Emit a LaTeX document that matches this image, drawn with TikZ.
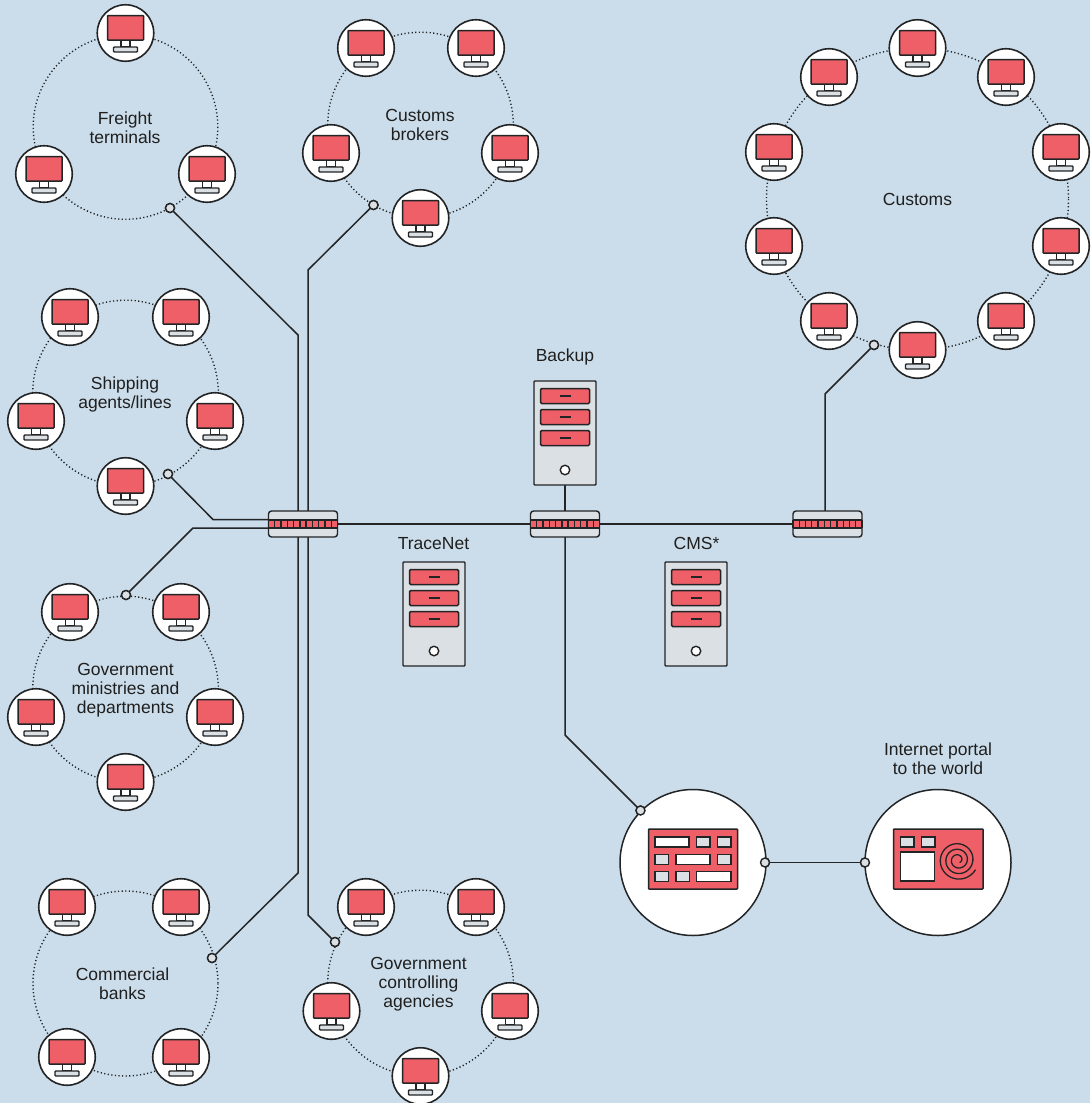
\documentclass[tikz,border=0pt]{standalone}
\usepackage{fontspec}
\setmainfont{Liberation Sans}
\definecolor{bgc}{HTML}{CBDDEA}
\definecolor{redc}{HTML}{EF5F68}
\definecolor{grayc}{HTML}{DBE0E4}
\definecolor{inkc}{HTML}{222426}
\tikzset{
  x=1pt,y=-1pt,
  wire/.style={draw=inkc,line width=1.5pt,line join=miter},
  ringline/.style={draw=inkc,line width=1.4pt,dash pattern=on 1.2pt off 2.4pt},
  disc/.style={circle,draw=inkc,fill=white,line width=1.6pt,minimum size=56.5pt,inner sep=0pt,outer sep=0pt},
  bigdisc/.style={circle,draw=inkc,fill=white,line width=1.5pt,minimum size=146pt,inner sep=0pt,outer sep=0pt},
  port/.style={circle,draw=inkc,fill=grayc,line width=1.4pt,minimum size=9pt,inner sep=0pt,outer sep=0pt},
  red part/.style={draw=inkc,fill=redc,line width=1.5pt,rounded corners=.6pt},
  gray part/.style={draw=inkc,fill=grayc,line width=1.4pt},
  white part/.style={draw=inkc,fill=white,line width=1.4pt},
  lbl/.style={align=center,font=\fontsize{17.5}{19}\selectfont,text=black!88,inner sep=0pt},
  ringhub/.style={inner sep=0pt,minimum size=0pt},
}
\newcommand{\pcnode}[3]{%
  \node[disc] (#1) at (#2,#3) {};
  \begin{scope}[shift={(#2,#3)}]
    \draw[white part] (-4.5,7) rectangle (4.5,14);
    \draw[gray part,rounded corners=.8pt] (-12,14) rectangle (12,19);
    \draw[red part] (-18,-17.5) rectangle (18,7);
  \end{scope}}
\newcommand{\servernode}[3]{%
  \node[draw=inkc,fill=grayc,line width=1.4pt,minimum width=62pt,minimum height=104pt,inner sep=0pt,outer sep=0pt,rounded corners=.8pt] (#1) at (#2,#3) {};
  \begin{scope}[shift={(#2,#3)}]
    \foreach \yy in {-37,-16,5}{
      \draw[red part,rounded corners=1.2pt] (-24.5,\yy-7.5) rectangle (24.5,\yy+7.5);
      \draw[draw=inkc,line width=1.3pt] (-5.5,\yy) -- (5.5,\yy);
    }
    \node[circle,draw=inkc,fill=white,line width=1.4pt,minimum size=9.5pt,inner sep=0pt] at (0,37) {};
  \end{scope}}
\newcommand{\switchnode}[3]{%
  \node[draw=inkc,fill=grayc,line width=1.4pt,minimum width=69pt,minimum height=26pt,inner sep=0pt,outer sep=0pt,rounded corners=3pt] (#1) at (#2,#3) {};
  \begin{scope}[shift={(#2,#3)}]
    \fill[redc] (-34.5,-4) rectangle (34.5,4);
    \foreach \k in {0,...,11}{
      \draw[inkc,line width=1.3pt] ({-34.5+\k*69/11},-4) -- ({-34.5+\k*69/11},4);
    }
    \draw[inkc,line width=1.4pt] (-34.5,-4) -- (34.5,-4) (-34.5,4) -- (34.5,4);
  \end{scope}}
\begin{document}
\begin{tikzpicture}
\useasboundingbox (0,0) rectangle (1090,1103);
\fill[bgc] (0,0) rectangle (1090,1103);
% ring hubs
\node[ringhub] (r1) at (125.5,127) {};
\node[ringhub] (r2) at (420.5,125) {};
\node[ringhub] (r3) at (125.5,393) {};
\node[ringhub] (r4) at (125.5,689) {};
\node[ringhub] (r5) at (125.5,983.5) {};
\node[ringhub] (r6) at (420.5,983) {};
\node[ringhub] (r7) at (917.5,199) {};
% rings
\draw[ringline] (r1) circle (92.3);
\draw[ringline] (r2) circle (92.8);
\draw[ringline] (r3) circle (92.8);
\draw[ringline] (r4) circle (92.8);
\draw[ringline] (r5) circle (92.5);
\draw[ringline] (r6) circle (92.8);
\draw[ringline] (r7) circle (151);
% anchors and devices
\node[port] (pa) at (170,208) {};
\node[port] (pb) at (373.5,205) {};
\node[port] (pc) at (168,474) {};
\node[port] (pd) at (126,595) {};
\node[port] (pe) at (212,958) {};
\node[port] (pf) at (335,942) {};
\node[port] (pg) at (874,345) {};
\node[port] (ph) at (640.5,810.5) {};
\node[port] (pi) at (765,862.5) {};
\node[port] (pj) at (865,862.5) {};
\coordinate (swaL) at (268,519.5);
\coordinate (swaLb) at (268,528);
\coordinate (swaC) at (303,524);
\coordinate (swbC) at (565,524);
\coordinate (swcC) at (825,524);
% connectors
\draw[wire] (pa) -- (298,335) -- (298,873) -- (pe);
\draw[wire] (pb) -- (308,270) -- (308,915) -- (pf);
\draw[wire] (pc) -- (213,519.5) -- (swaL);
\draw[wire] (pd) -- (193,528) -- (swaLb);
\draw[wire] (swaC) -- (swcC);
\draw[wire] (565,485) -- (swbC);
\draw[wire] (swbC) -- (565,735) -- (ph);
\draw[wire] (swcC) -- (825,394) -- (pg);
% network switches
\switchnode{swa}{303}{524}
\switchnode{swb}{565}{524}
\switchnode{swc}{827.5}{524}
% servers
\servernode{backup}{565}{433}
\servernode{tracenet}{434}{614}
\servernode{cms}{696}{614}
% computers
\pcnode{a1}{125.5}{33}\pcnode{a2}{44}{174}\pcnode{a3}{207}{174}
\pcnode{b1}{366}{48}\pcnode{b2}{476}{48}\pcnode{b3}{331}{153}\pcnode{b4}{510}{153}\pcnode{b5}{420.5}{218}
\pcnode{c1}{70}{317}\pcnode{c2}{181}{317}\pcnode{c3}{36}{421}\pcnode{c4}{215}{421}\pcnode{c5}{125.5}{486}
\pcnode{d1}{70}{612}\pcnode{d2}{181}{612}\pcnode{d3}{36}{717}\pcnode{d4}{215}{717}\pcnode{d5}{125.5}{782}
\pcnode{e1}{67}{907}\pcnode{e2}{181}{907}\pcnode{e3}{67}{1057}\pcnode{e4}{181}{1057}
\pcnode{f1}{366}{907}\pcnode{f2}{476}{907}\pcnode{f3}{331.5}{1011}\pcnode{f4}{510}{1011}\pcnode{f5}{420.5}{1076}
\pcnode{g1}{917.5}{48}\pcnode{g2}{829}{77}\pcnode{g3}{1006}{77}\pcnode{g4}{774}{152}\pcnode{g5}{1061}{152}
\pcnode{g6}{774}{246}\pcnode{g7}{1061}{246}\pcnode{g8}{829}{321}\pcnode{g9}{1006}{321}\pcnode{g10}{917.5}{350}
% big circles
\node[bigdisc] (hub) at (693,862.5) {};
\node[bigdisc] (portal) at (938,862.5) {};
\draw[red part] (648.5,829) rectangle (737.5,889);
\foreach \xa/\xb/\ya in {655/689/837,676/710/854.5,696.5/731/871.5}{
  \draw[white part] (\xa,\ya) rectangle (\xb,\ya+10);}
\foreach \xa/\ya in {696.5/837,717.5/837,655/854.5,717.5/854.5,655/871.5,676/871.5}{
  \draw[gray part] (\xa,\ya) rectangle (\xa+13.5,\ya+10);}
\draw[red part] (893.5,829) rectangle (983,889);
\foreach \xa in {900.5,921.5}{\draw[gray part] (\xa,837) rectangle (\xa+13.5,847);}
\draw[white part] (900.5,852) rectangle (934.5,881);
\draw[draw=inkc,line width=1.3pt,line cap=round] plot[smooth,samples=120,domain=0:1100,variable=\t] ({958+(20-\t/1100*17)*cos(30+\t)},{860+(20-\t/1100*17)*sin(30+\t)});
% wire between the two big circles, and ports on top
\draw[wire,line width=1.8pt] (pi) -- (pj);
\node[port] at (pa) {};\node[port] at (pb) {};\node[port] at (pc) {};\node[port] at (pd) {};
\node[port] at (pe) {};\node[port] at (pf) {};\node[port] at (pg) {};\node[port] at (ph) {};
\node[port] at (pi) {};\node[port] at (pj) {};
% labels
\node[lbl] (t1) at (125,127.5) {Freight\\terminals};
\node[lbl] (t2) at (420,124.5) {Customs\\brokers};
\node[lbl] (t3) at (125,394) {Shipping\\agents/lines};
\node[lbl] (t4) at (125.5,690.5) {Government\\ministries and\\departments};
\node[lbl] (t5) at (122.5,983.5) {Commercial\\banks};
\node[lbl] (t6) at (418.5,984.5) {Government\\controlling\\agencies};
\node[lbl] (t7) at (917.5,199) {Customs};
\node[lbl] (t8) at (565,356.5) {Backup};
\node[lbl] (t9) at (433.5,543.5) {TraceNet};
\node[lbl] (t10) at (696.5,543.5) {CMS*};
\node[lbl] (t11) at (938,759) {Internet portal\\to the world};
\end{tikzpicture}
\end{document}
